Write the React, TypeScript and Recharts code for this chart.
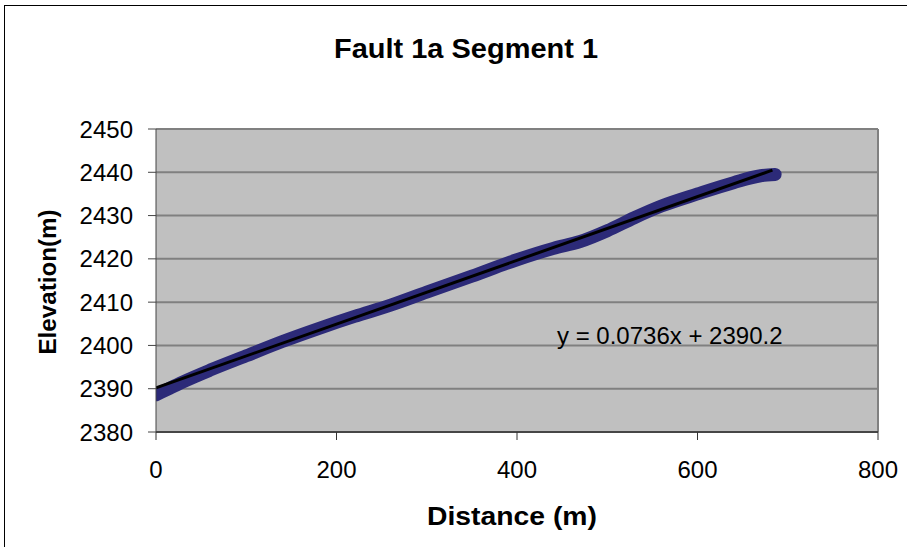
import React from "react";
import { ComposedChart, Line, XAxis, YAxis, CartesianGrid, ReferenceLine } from "recharts";

const distances = [0, 15, 30, 60, 100, 140, 180, 220, 260, 300, 350, 400, 440, 470, 500, 530, 560, 600, 640, 670, 686];
const elevations = [2388.6, 2390.1, 2391.6, 2394.3, 2397.6, 2400.9, 2403.9, 2406.7, 2409.3, 2412.3, 2416.0, 2419.8, 2422.4, 2424.0, 2426.5, 2429.5, 2432.2, 2435.0, 2437.6, 2439.2, 2439.5];
const trendDistances = [0, 683];
const trendElevations = [2390.2, 2440.5];
const xTicks = [0, 200, 400, 600, 800];
const yTicks = [2380, 2390, 2400, 2410, 2420, 2430, 2440, 2450];
const titleText = "Fault 1a Segment 1";
const xTitle = "Distance (m)";
const yTitle = "Elevation(m)";
const equationText = "y = 0.0736x + 2390.2";

const profile = distances.map((d, i) => ({ d, elev: elevations[i] }));
const trend = trendDistances.map((d, i) => ({ d, fit: trendElevations[i] }));

const FONT = '"Liberation Sans", Arial, sans-serif';

export default function App() {
  return (
    <div style={{ position: "absolute", left: 0, top: 0, width: 907, height: 547, overflow: "hidden", background: "#fff", fontFamily: FONT }}>
      <div style={{ position: "absolute", left: 4, top: 5, width: 920, height: 560, border: "1px solid #000", boxSizing: "border-box" }} />
      <div style={{ position: "absolute", left: 0, top: 0 }}>
        <ComposedChart width={907} height={547} margin={{ top: 129, right: 29, bottom: 60, left: 0 }}>
          <CartesianGrid vertical={false} horizontal={true} stroke="#808080" strokeWidth={2} fill="#C0C0C0" fillOpacity={1} />
          <XAxis
            type="number"
            dataKey="d"
            domain={[0, 800]}
            ticks={xTicks}
            allowDataOverflow
            height={55}
            tickSize={8}
            tickMargin={21}
            stroke="#333"
            tick={{ fill: "#000", fontSize: 24, fontFamily: FONT }}
            axisLine={{ stroke: "#333", strokeWidth: 1.5 }}
            tickLine={{ stroke: "#333" }}
          />
          <YAxis
            type="number"
            domain={[2380, 2450]}
            ticks={yTicks}
            allowDataOverflow
            width={156}
            tickSize={8}
            tickMargin={15}
            tick={{ fill: "#000", fontSize: 24, fontFamily: FONT }}
            axisLine={{ stroke: "#444", strokeWidth: 1 }}
            tickLine={{ stroke: "#444" }}
          />
          <ReferenceLine x={800} stroke="#808080" strokeWidth={2} />
          <Line
            data={profile}
            dataKey="elev"
            type="monotone"
            stroke="#2C2A78"
            strokeWidth={13}
            strokeLinecap="round"
            strokeLinejoin="round"
            dot={false}
            activeDot={false}
            isAnimationActive={false}
          />
          <Line
            data={trend}
            dataKey="fit"
            type="linear"
            stroke="#000"
            strokeWidth={3}
            dot={false}
            activeDot={false}
            isAnimationActive={false}
          />
        </ComposedChart>
      </div>
      <svg width={907} height={547} style={{ position: "absolute", left: 0, top: 0, pointerEvents: "none" }}>
        <text x={466} y={58} textAnchor="middle" fontSize={28} fontWeight="bold" fontFamily={FONT} fill="#000" textLength={264} lengthAdjust="spacingAndGlyphs">{titleText}</text>
        <text x={512} y={525} textAnchor="middle" fontSize={25} fontWeight="bold" fontFamily={FONT} fill="#000" textLength={170} lengthAdjust="spacingAndGlyphs">{xTitle}</text>
        <text x={56} y={282} textAnchor="middle" fontSize={24} fontWeight="bold" fontFamily={FONT} fill="#000" textLength={145} lengthAdjust="spacingAndGlyphs" transform="rotate(-90, 56, 282)">{yTitle}</text>
        <text x={557} y={344} textAnchor="start" fontSize={24} fontFamily={FONT} fill="#000">{equationText}</text>
      </svg>
    </div>
  );
}
